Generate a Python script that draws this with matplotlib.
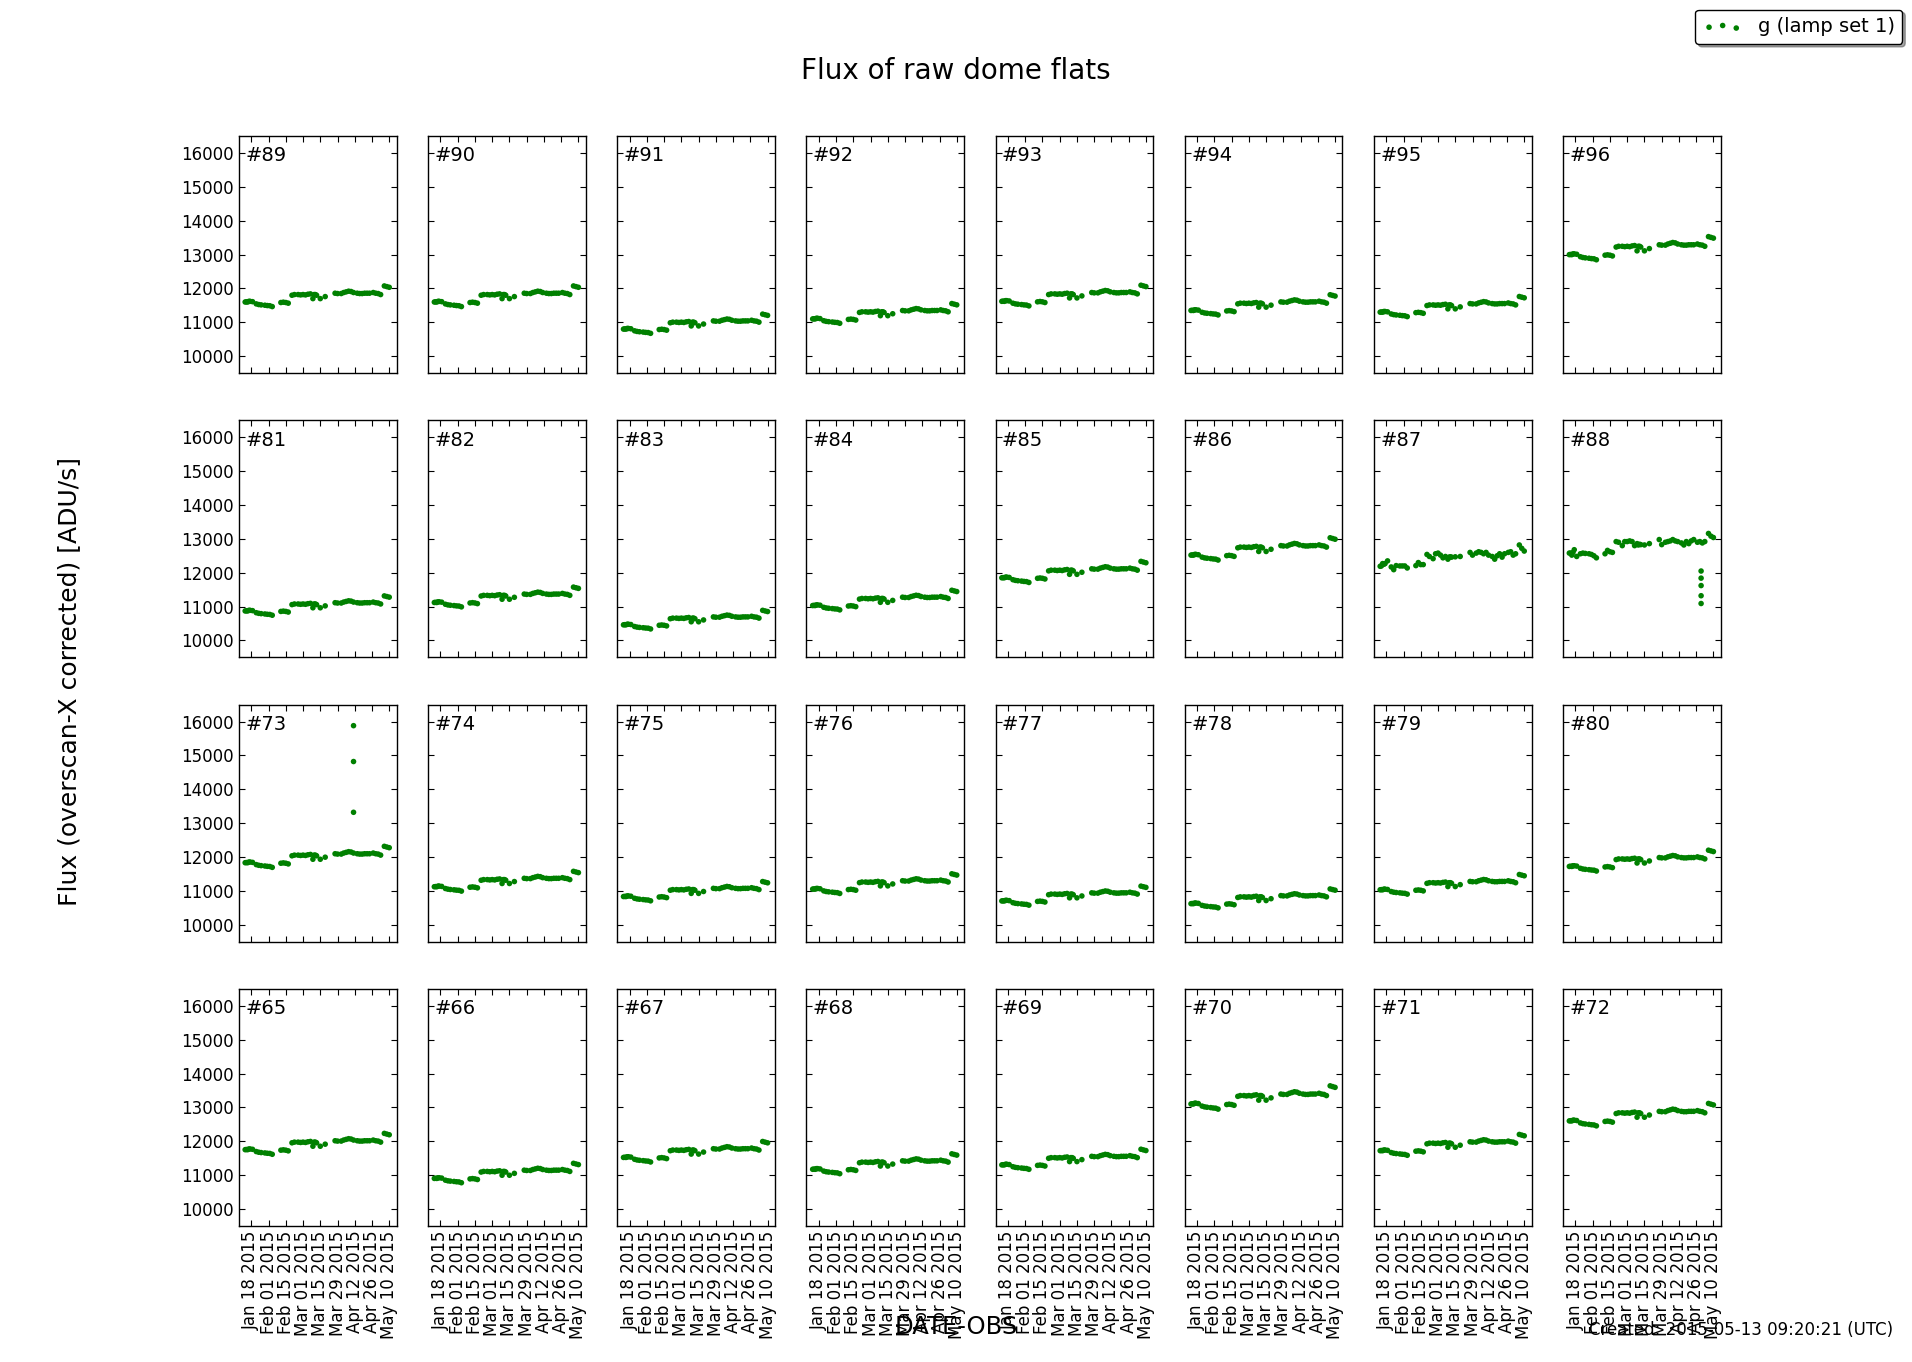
import numpy as np
import pandas as pd
import matplotlib
matplotlib.use("Agg")
import matplotlib.pyplot as plt
import matplotlib.dates as mdates

# ---------- Data ----------
obs_dates = ["2015-01-13", "2015-01-14", "2015-01-15", "2015-01-16", "2015-01-17", "2015-01-19",
             "2015-01-22", "2015-01-24", "2015-01-26", "2015-01-29", "2015-01-31", "2015-02-02", "2015-02-04",
             "2015-02-11", "2015-02-13", "2015-02-15", "2015-02-17",
             "2015-02-20", "2015-02-22", "2015-02-25", "2015-02-27", "2015-03-01", "2015-03-03",
             "2015-03-05", "2015-03-07", "2015-03-09", "2015-03-10", "2015-03-11", "2015-03-12",
             "2015-03-15", "2015-03-19",
             "2015-03-27", "2015-03-29", "2015-04-01", "2015-04-03", "2015-04-05", "2015-04-07",
             "2015-04-09", "2015-04-11", "2015-04-14", "2015-04-16", "2015-04-18", "2015-04-20",
             "2015-04-22", "2015-04-24", "2015-04-27", "2015-04-29", "2015-05-01", "2015-05-03",
             "2015-05-06", "2015-05-08", "2015-05-10"]

# lamp profile as read from CCD #89 (ADU/s)
flux_89 = [11600, 11605, 11600, 11620, 11620, 11610,
           11545, 11525, 11515, 11505, 11495, 11490, 11465,
           11585, 11595, 11585, 11565,
           11800, 11820, 11820, 11810, 11820, 11810,
           11830, 11840, 11700, 11820, 11820, 11800,
           11700, 11760,
           11860, 11850, 11850, 11880, 11900, 11920,
           11910, 11880, 11860, 11850, 11850, 11860,
           11860, 11860, 11880, 11860, 11850, 11820,
           12075, 12055, 12035]

# noisier CCDs
flux_87 = [12190, 12200, 12270, 12250, 12270, 12350,
           12170, 12090, 12210, 12200, 12200, 12200, 12140,
           12210, 12300, 12240, 12240,
           12540, 12480, 12415, 12560, 12580, 12520,
           12440, 12480, 12400, 12460, 12470, 12460,
           12470, 12480,
           12600, 12520, 12580, 12620, 12600, 12560,
           12600, 12520, 12480, 12400, 12500, 12560,
           12460, 12560, 12600, 12620, 12520, 12560,
           12820, 12720, 12640]
flux_88 = [12580, 12580, 12520, 12600, 12680, 12480,
           12560, 12580, 12570, 12560, 12540, 12500, 12440,
           12560, 12660, 12620, 12600,
           12920, 12900, 12800, 12920, 12920, 12940,
           12920, 12800, 12860, 12820, 12840, 12830,
           12820, 12860,
           12980, 12830, 12900, 12920, 12940, 12980,
           12940, 12920, 12880, 12820, 12920, 12860,
           12940, 12980, 12900, 12920, 12880, 12920,
           13160, 13080, 13040]

outlier_88_date = "2015-04-30"
outlier_88_flux = [12050, 11840, 11620, 11320, 11090]
outlier_73_date = "2015-04-11"
outlier_73_flux = [15880, 14820, 13320]

ccd_ids = [89, 90, 91, 92, 93, 94, 95, 96,
           81, 82, 83, 84, 85, 86, 87, 88,
           73, 74, 75, 76, 77, 78, 79, 80,
           65, 66, 67, 68, 69, 70, 71, 72]
# flux level of each CCD in mid January
ccd_levels = [11600, 11600, 10800, 11100, 11620, 11350, 11300, 13000,
              10870, 11120, 10460, 11030, 11850, 12520, 12200, 12550,
              11830, 11120, 10830, 11050, 10700, 10620, 11030, 11720,
              11750, 10900, 11520, 11170, 11300, 13100, 11720, 12600]

tick_dates = ["2015-01-18", "2015-02-01", "2015-02-15", "2015-03-01", "2015-03-15",
              "2015-03-29", "2015-04-12", "2015-04-26", "2015-05-10"]
y_ticks = [10000, 11000, 12000, 13000, 14000, 15000, 16000]

# ---------- Plot ----------
dates = pd.to_datetime(obs_dates)
ref = np.array(flux_89, dtype=float)
green = (0, 0.5, 0)
msize = 16

fig, axes = plt.subplots(4, 8, sharex=True, sharey=True, figsize=(19.12, 13.62), dpi=100)
fig.subplots_adjust(left=0.125, right=0.9, bottom=0.1, top=0.9, wspace=0.2, hspace=0.2)

for i, ax in enumerate(axes.flat):
    ccd = ccd_ids[i]
    if ccd == 87:
        vals = np.array(flux_87)
    elif ccd == 88:
        vals = np.array(flux_88)
    else:
        vals = ref * ccd_levels[i] / ref[0]
    sc = ax.scatter(dates, vals, s=msize, color=green, edgecolors="none", zorder=3)
    if ccd == 88:
        ax.scatter(pd.to_datetime([outlier_88_date] * len(outlier_88_flux)), outlier_88_flux,
                   s=msize, color=green, edgecolors="none", zorder=3)
    if ccd == 73:
        ax.scatter(pd.to_datetime([outlier_73_date] * len(outlier_73_flux)), outlier_73_flux,
                   s=msize, color=green, edgecolors="none", zorder=3)
    if i == 0:
        handle = sc
    ax.text(0.04, 0.917, "#%d" % ccd, transform=ax.transAxes, fontsize=14, va="center", ha="left")
    ax.tick_params(direction="in", top=True, right=True, length=4, labelsize=12)
    for sp in ax.spines.values():
        sp.set_linewidth(1.0)

ax0 = axes[0, 0]
ax0.set_ylim(9500, 16500)
ax0.set_yticks(y_ticks)
ax0.set_xlim(pd.Timestamp("2015-01-08"), pd.Timestamp("2015-05-16"))
ax0.set_xticks(pd.to_datetime(tick_dates))
ax0.xaxis.set_major_formatter(mdates.DateFormatter("%b %d %Y"))
for ax in axes[-1, :]:
    plt.setp(ax.get_xticklabels(), rotation=90)

fig.text(0.5, 0.948, "Flux of raw dome flats", fontsize=20, ha="center", va="center")
fig.text(0.036, 0.5, "Flux (overscan-X corrected) [ADU/s]", fontsize=18,
         rotation=90, ha="center", va="center")
fig.text(0.5, 0.026, "DATE-OBS", fontsize=17.5, ha="center", va="center")
fig.text(0.99, 0.0235, "Created: 2015-05-13 09:20:21 (UTC)", fontsize=12, ha="right", va="center")

leg = fig.legend([handle], ["g (lamp set 1)"], loc="upper right", bbox_to_anchor=(0.995, 0.993),
                 borderaxespad=0, scatterpoints=3, fontsize=14, shadow=True, fancybox=True,
                 framealpha=1, edgecolor="black")

plt.savefig("out.png", dpi=100)
